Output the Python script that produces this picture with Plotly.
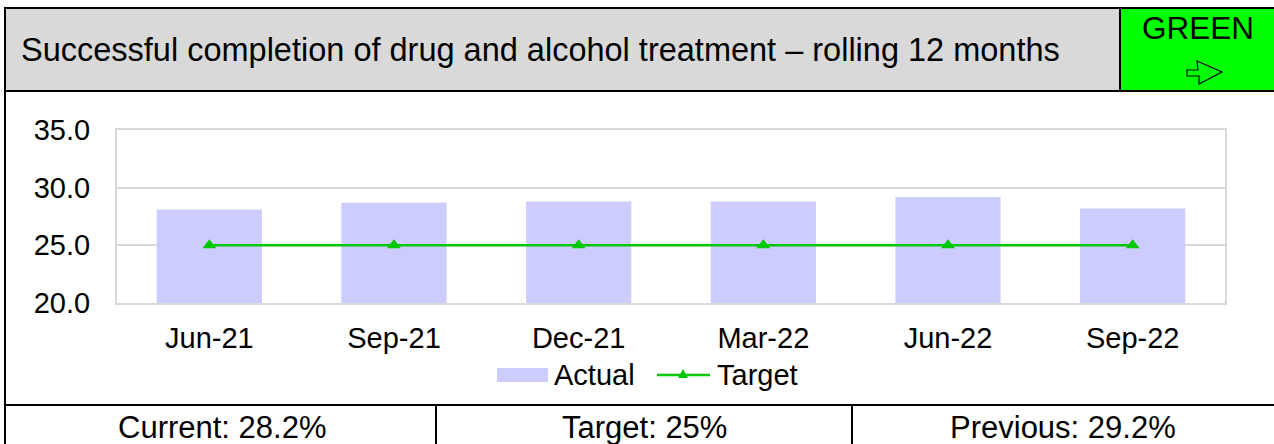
import plotly.graph_objects as go

# Indicator data
quarters = ["Jun-21", "Sep-21", "Dec-21", "Mar-22", "Jun-22", "Sep-22"]
actual = [28.1, 28.7, 28.8, 28.8, 29.2, 28.2]
target = [25.0, 25.0, 25.0, 25.0, 25.0, 25.0]
y_ticks = [20, 25, 30, 35]

title_text = "Successful completion of drug and alcohol treatment \u2013 rolling 12 months"
status_text = "GREEN"
summary = ["Current: 28.2%", "Target: 25%", "Previous: 29.2%"]

W, H = 1274, 444
ML, MR, MT, MB = 117, W - 1225, 130, H - 303
PW, PH = W - ML - MR, H - MT - MB

FONT = "Liberation Sans, Arial, sans-serif"
BAR_COLOR = "#ccccff"
LINE_COLOR = "#00c800"
GRID = "#d9d9d9"


def fx(px):
    return (px - ML) / PW


def fy(py):
    return (H - MB - py) / PH


fig = go.Figure()
fig.add_trace(go.Bar(
    x=quarters, y=actual, name="Actual",
    marker=dict(color=BAR_COLOR, line=dict(width=0)),
))
fig.add_trace(go.Scatter(
    x=quarters, y=target, name="Target", mode="lines+markers",
    line=dict(color=LINE_COLOR, width=2.5),
    marker=dict(symbol="triangle-up", size=12, color=LINE_COLOR),
))

shapes = []
annotations = []


def rect(x0, y0, x1, y1, fill, line="black", lw=2):
    shapes.append(dict(type="rect", xref="paper", yref="paper",
                       x0=fx(x0), x1=fx(x1), y0=fy(y0), y1=fy(y1),
                       fillcolor=fill, line=dict(color=line, width=lw),
                       layer="below"))


def line(x0, y0, x1, y1, color="black", lw=2):
    shapes.append(dict(type="line", xref="paper", yref="paper",
                       x0=fx(x0), x1=fx(x1), y0=fy(y0), y1=fy(y1),
                       line=dict(color=color, width=lw)))


def polygon(points, fill, outline, lw):
    path = "M " + " L ".join(f"{fx(px)},{fy(py)}" for px, py in points) + " Z"
    shapes.append(dict(type="path", xref="paper", yref="paper", path=path,
                       fillcolor=fill, line=dict(color=outline, width=lw)))


def text(s, x, y, size, xanchor="center", family=FONT):
    annotations.append(dict(text=s, xref="paper", yref="paper",
                            x=fx(x), y=fy(y), xanchor=xanchor, yanchor="middle",
                            showarrow=False,
                            font=dict(family=family, size=size, color="black")))


# Header band with status box
rect(5, 8, 1120, 91, "#d9d9d9")
rect(1120, 8, 1290, 91, "#00ff00")
text(title_text, 19, 50, 32.5, xanchor="left")
text(status_text, 1198, 28, 31.5)
# Outlined trend arrow pointing right (steady)
polygon([(1187, 70), (1198, 70), (1197, 61), (1222, 72), (1199, 84),
         (1199, 76), (1187, 76)], "rgba(0,0,0,0)", "black", 1.2)

# Frame and summary row
line(5, 91, 5, 450)
line(5, 405, 1290, 405)
line(436, 405, 436, 450)
line(852, 405, 852, 450)
text(summary[0], 222, 427, 31)
text(summary[1], 644, 427, 31)
text(summary[2], 1063, 427, 31)

# Legend
rect(497, 368, 548, 382, BAR_COLOR, line=BAR_COLOR, lw=0)
text("Actual", 552, 375, 29, xanchor="left")
line(657, 375, 710, 375, color=LINE_COLOR, lw=2.5)
tx, ty = 683, 374
polygon([(tx - 5, ty + 4), (tx + 5, ty + 4), (tx, ty - 5)], LINE_COLOR, LINE_COLOR, 0)
text("Target", 715, 375, 29, xanchor="left")

fig.update_layout(
    width=W, height=H,
    margin=dict(l=ML, r=MR, t=MT, b=MB, pad=0),
    paper_bgcolor="white", plot_bgcolor="white",
    showlegend=False,
    bargap=0.43,
    font=dict(family=FONT, size=29, color="black"),
    shapes=shapes, annotations=annotations,
)
fig.update_xaxes(
    showgrid=False, showline=True, linecolor=GRID, linewidth=2, mirror=True,
    ticks="", tickfont=dict(size=29), ticklabelstandoff=8,
)
fig.update_yaxes(
    range=[20, 35], tickvals=y_ticks, tickformat=".1f",
    showgrid=True, gridcolor=GRID, gridwidth=2,
    showline=True, linecolor=GRID, linewidth=2, mirror=True,
    ticks="", tickfont=dict(size=29), ticklabelstandoff=19, zeroline=False,
)

fig.write_html("out.html")
